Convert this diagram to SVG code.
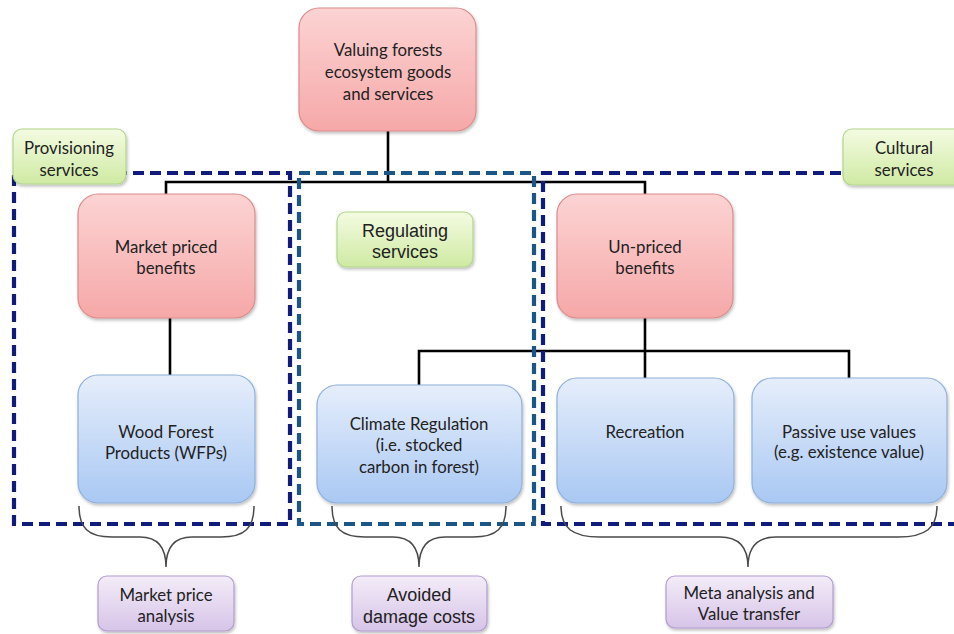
<svg xmlns="http://www.w3.org/2000/svg" width="954" height="634" viewBox="0 0 954 634">
<style>
  .t { font-family: "Lato", "Open Sans", sans-serif; font-size: 16.8px; fill: #222; text-anchor: middle; }
  .a { font-family: "Liberation Sans", Arial, sans-serif; font-size: 18px; fill: #222; text-anchor: middle; }
  .red { fill: url(#gRed); stroke: #d98c8c; stroke-width: 1.2; filter: url(#sh); }
  .blue { fill: url(#gBlue); stroke: #8eb0da; stroke-width: 1.2; filter: url(#sh); }
  .green { fill: url(#gGreen); stroke: #b2d68a; stroke-width: 1.2; filter: url(#sh); }
  .purple { fill: url(#gPurple); stroke: #b39ccf; stroke-width: 1.2; filter: url(#sh); }
  .con { fill: none; stroke: #000; stroke-width: 2.6; }
  .dnavy { fill: none; stroke: #101c7c; stroke-width: 4.2; stroke-dasharray: 11 6; }
  .dteal { fill: none; stroke: #1c5686; stroke-width: 4.2; stroke-dasharray: 11 6; }
  .brace { fill: none; stroke: #4a4a4a; stroke-width: 1.5; }
</style>
<defs>
  <linearGradient id="gRed" x1="0" y1="0" x2="0" y2="1">
    <stop offset="0" stop-color="#fcd3d3"/><stop offset="1" stop-color="#f6a8a8"/>
  </linearGradient>
  <linearGradient id="gBlue" x1="0" y1="0" x2="0" y2="1">
    <stop offset="0" stop-color="#e6eefb"/><stop offset="1" stop-color="#a9c8f3"/>
  </linearGradient>
  <linearGradient id="gGreen" x1="0" y1="0" x2="0" y2="1">
    <stop offset="0" stop-color="#f4fbe2"/><stop offset="1" stop-color="#cfeaa3"/>
  </linearGradient>
  <linearGradient id="gPurple" x1="0" y1="0" x2="0" y2="1">
    <stop offset="0" stop-color="#f3ecf8"/><stop offset="1" stop-color="#d7c4e8"/>
  </linearGradient>
  <filter id="sh" x="-10%" y="-10%" width="125%" height="130%">
    <feDropShadow dx="1" dy="2" stdDeviation="1.5" flood-color="#000" flood-opacity="0.25"/>
  </filter>
</defs>

<g id="connectors">
  <path class="con" d="M388,131 V182 M166,194 V182 H645 V194"/>
  <path class="con" d="M170,318 V375"/>
  <path class="con" d="M645,318 V351 M419,385 V351 H849 V378 M645,351 V378"/>
</g>

<g id="dashed-groups">
  <rect id="provisioning-box" class="dnavy" x="14" y="173" width="276" height="351"/>
  <rect id="regulating-box" class="dteal" x="299" y="173" width="235" height="351"/>
  <path id="cultural-box" class="dnavy" d="M960,173 H543 V524 H960"/>
</g>

<g id="braces">
  <path class="brace" d="M79,506 C79,528 88,537 112,537 H140 C158,537 166,548 166,567 C166,548 174,537 192,537 H221 C245,537 254,528 254,506"/>
  <path class="brace" d="M332,506 C332,528 341,537 365,537 H393 C411,537 419,548 419,567 C419,548 427,537 445,537 H473 C497,537 506,528 506,506"/>
  <path class="brace" d="M561,506 C561,528 572,537 600,537 H720 C740,537 748,548 748,567 C748,548 756,537 776,537 H898 C926,537 937,528 937,506"/>
</g>

<g id="node-root">
  <rect class="red" x="299" y="8" width="177" height="123" rx="20"/>
  <text class="t" x="388" y="56">Valuing forests</text>
  <text class="t" x="388" y="78">ecosystem goods</text>
  <text class="t" x="388" y="100">and services</text>
</g>

<g id="node-provisioning">
  <rect class="green" x="13" y="129" width="113" height="55" rx="9"/>
  <text class="t" x="69" y="154">Provisioning</text>
  <text class="t" x="69" y="176">services</text>
</g>

<g id="node-cultural">
  <rect class="green" x="843" y="129" width="122" height="56" rx="9"/>
  <text class="t" x="904" y="154">Cultural</text>
  <text class="t" x="904" y="176">services</text>
</g>

<g id="node-market">
  <rect class="red" x="78" y="194" width="177" height="124" rx="20"/>
  <text class="t" x="166" y="253">Market priced</text>
  <text class="t" x="166" y="274">benefits</text>
</g>

<g id="node-regulating">
  <rect class="green" x="337" y="212" width="136" height="55" rx="9"/>
  <text class="a" x="405" y="237">Regulating</text>
  <text class="a" x="405" y="258">services</text>
</g>

<g id="node-unpriced">
  <rect class="red" x="557" y="194" width="176" height="124" rx="20"/>
  <text class="t" x="645" y="253">Un-priced</text>
  <text class="t" x="645" y="274">benefits</text>
</g>

<g id="node-wfp">
  <rect class="blue" x="78" y="375" width="177" height="128" rx="20"/>
  <text class="t" x="166" y="438">Wood Forest</text>
  <text class="t" x="166" y="459">Products (WFPs)</text>
</g>

<g id="node-climate">
  <rect class="blue" x="317" y="385" width="205" height="118" rx="20"/>
  <text class="t" x="419" y="430">Climate Regulation</text>
  <text class="t" x="419" y="451">(i.e. stocked</text>
  <text class="t" x="419" y="473">carbon in forest)</text>
</g>

<g id="node-recreation">
  <rect class="blue" x="557" y="378" width="177" height="125" rx="20"/>
  <text class="t" x="645" y="438">Recreation</text>
</g>

<g id="node-passive">
  <rect class="blue" x="752" y="378" width="195" height="125" rx="20"/>
  <text class="t" x="849" y="438">Passive use values</text>
  <text class="t" x="849" y="458">(e.g. existence value)</text>
</g>

<g id="node-market-analysis">
  <rect class="purple" x="98" y="576" width="136" height="55" rx="9"/>
  <text class="t" x="166" y="601">Market price</text>
  <text class="t" x="166" y="622">analysis</text>
</g>

<g id="node-avoided">
  <rect class="purple" x="352" y="576" width="135" height="55" rx="9"/>
  <text class="a" x="419" y="601">Avoided</text>
  <text class="a" x="419" y="623">damage costs</text>
</g>

<g id="node-meta">
  <rect class="purple" x="666" y="576" width="167" height="52" rx="9"/>
  <text class="t" x="749" y="599">Meta analysis and</text>
  <text class="t" x="749" y="620">Value transfer</text>
</g>
</svg>
